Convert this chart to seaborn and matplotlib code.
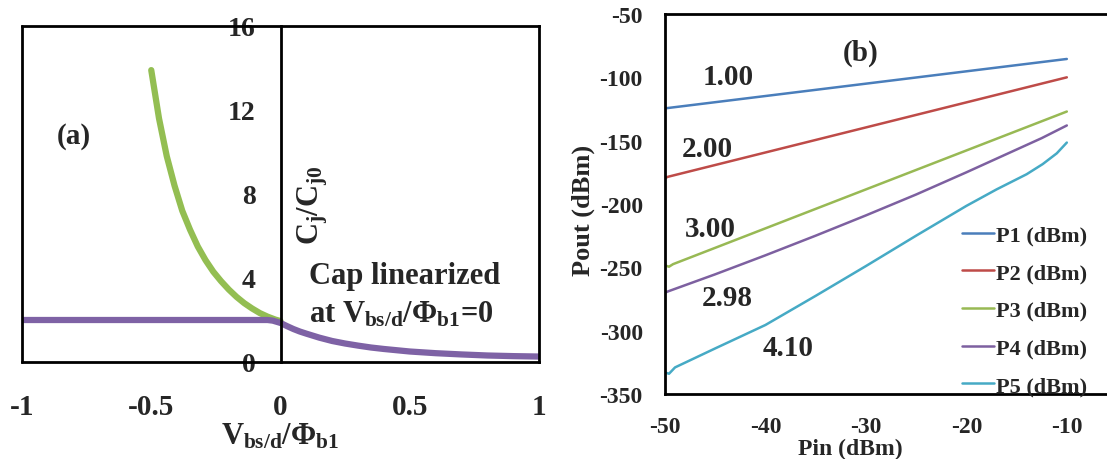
import numpy as np
import pandas as pd
import seaborn as sns
import matplotlib.pyplot as plt

# ---- panel (a): normalised junction capacitance ----
v_green = [-0.50, -0.47, -0.44, -0.41, -0.38, -0.35, -0.32, -0.29, -0.26, -0.23,
           -0.20, -0.17, -0.14, -0.11, -0.08, -0.05, -0.02, 0.0]
c_green = [13.9, 11.6, 9.8, 8.4, 7.2, 6.3, 5.5, 4.85, 4.3, 3.85,
           3.45, 3.1, 2.8, 2.55, 2.33, 2.16, 2.02, 1.95]
v_purple = [-1.0, -0.05, -0.03, 0.0, 0.025, 0.05, 0.075, 0.1, 0.15, 0.2, 0.25,
            0.3, 0.35, 0.4, 0.45, 0.5, 0.6, 0.7, 0.8, 0.9, 1.0]
c_purple = [2.0, 2.0, 1.97, 1.86, 1.71, 1.57, 1.45, 1.35, 1.16, 1.0, 0.88,
            0.78, 0.69, 0.62, 0.56, 0.5, 0.42, 0.36, 0.31, 0.28, 0.26]

# ---- panel (b): output power of harmonics ----
pin_p1 = [-50, -10]
p1 = [-124.5, -85.5]
pin_p2 = [-50, -49.7, -10]
p2 = [-179.5, -178.5, -100]
pin_p3 = [-50, -49.6, -49.2, -10]
p3 = [-248.5, -249.5, -247.5, -127]
pin_p4 = [-50, -49.7, -45, -40, -35, -30, -25, -20, -15, -12.5, -10]
p4 = [-270, -269, -255.5, -240.5, -225, -209, -192.5, -175, -157, -148, -138]
pin_p5 = [-50, -49.6, -49.0, -45, -40, -35, -30, -25, -20, -17,
          -14, -12.4, -11, -10]
p5 = [-333, -334, -329, -314, -295.5, -272.5, -249, -225, -201.5,
      -188.5, -176.5, -168.5, -160, -151.5]

slopes = ["1.00", "2.00", "3.00", "2.98", "4.10"]
slope_x = [-43.75, -45.8, -45.5, -43.8, -37.7]
slope_y = [-99, -156.5, -219, -273.5, -313]

sns.set_style("white")
plt.rcParams["font.family"] = ["Liberation Serif", "DejaVu Serif"]
plt.rcParams["font.weight"] = "bold"
plt.rcParams["axes.unicode_minus"] = False
plt.rcParams["mathtext.fontset"] = "custom"
plt.rcParams["mathtext.rm"] = "Liberation Serif:bold"
plt.rcParams["mathtext.it"] = "Liberation Serif:bold"
plt.rcParams["mathtext.bf"] = "Liberation Serif:bold"

W, H = 1107, 460
fig = plt.figure(figsize=(W / 100, H / 100), dpi=100)
ax1 = fig.add_axes([22 / W, 1 - 363 / H, (539 - 22) / W, (363 - 27) / H])
ax2 = fig.add_axes([665 / W, 1 - 395 / H, (W - 665) / W, (395 - 15) / H])

# ---------- panel (a) ----------
sns.lineplot(x=v_green, y=c_green, ax=ax1, color="#93BE52", lw=4.5, sort=False)
sns.lineplot(x=v_purple, y=c_purple, ax=ax1, color="#7E62A5", lw=4.5, sort=False)
ax1.set_xlim(-1, 1)
ax1.set_ylim(0, 16)
ax1.set_xticks([-1, -0.5, 0, 0.5, 1])
ax1.set_xticklabels(["-1", "-0.5", "0", "0.5", "1"])
ax1.set_yticks([0, 4, 8, 12, 16])
ax1.spines["left"].set_position(("data", 0))
for s in ax1.spines.values():
    s.set_linewidth(2)
    s.set_color("black")
ax1.axvline(-1, color="black", lw=2, clip_on=False)
ax1.tick_params(axis="x", direction="out", length=5, width=2, pad=17, labelsize=21)
ax1.tick_params(axis="y", direction="out", length=5, width=2, pad=13, labelsize=20)
ax1.text(-0.8, 10.8, "(a)", fontsize=21, ha="center", va="center")
ax1.text(0.112, 4.1, "Cap linearized", fontsize=22, ha="left", va="center")
ax1.text(0.112, 2.3, r"at $V_{bs/d}/Φ_{b1}$=0", fontsize=22, ha="left", va="center")
fig.text(313 / W, 1 - 205 / H, r"$C_j/C_{j0}$", fontsize=22, rotation=90,
         ha="center", va="center")
fig.text(280 / W, 1 - 437 / H, r"$V_{bs/d}/Φ_{b1}$", fontsize=22,
         ha="center", va="center")

# ---------- panel (b) ----------
series = [(pin_p1, p1, "P1 (dBm)", "#4A7EBB"),
          (pin_p2, p2, "P2 (dBm)", "#BE4B48"),
          (pin_p3, p3, "P3 (dBm)", "#98B954"),
          (pin_p4, p4, "P4 (dBm)", "#7D60A0"),
          (pin_p5, p5, "P5 (dBm)", "#46AAC5")]
for xs, ys, lab, col in series:
    sns.lineplot(x=xs, y=ys, ax=ax2, color=col, lw=1.8, label=lab, sort=False)
ax2.set_xlim(-50, -6)
ax2.set_ylim(-350, -50)
ax2.set_xticks([-50, -40, -30, -20, -10])
ax2.set_yticks(np.arange(-350, -49, 50))
ax2.spines["right"].set_visible(False)
for s in ["left", "bottom", "top"]:
    ax2.spines[s].set_linewidth(2)
    ax2.spines[s].set_color("black")
ax2.tick_params(axis="both", direction="out", length=5, width=2, labelsize=17)
ax2.tick_params(axis="x", pad=11)
ax2.tick_params(axis="y", pad=11)
ax2.set_xlabel("")
ax2.set_ylabel("")
for txt, tx, ty in zip(slopes, slope_x, slope_y):
    ax2.text(tx, ty, txt, fontsize=21, ha="center", va="center")
ax2.text(-30.5, -80, "(b)", fontsize=21, ha="center", va="center")
ax2.legend(loc="upper left", bbox_to_anchor=(962 / W, 1 - 226 / H),
           bbox_transform=fig.transFigure, frameon=False, fontsize=16,
           handlelength=1.45, handletextpad=0.1, labelspacing=0.77,
           borderpad=0, borderaxespad=0)
fig.text(583 / W, 1 - 210 / H, "Pout (dBm)", fontsize=19, rotation=90,
         ha="center", va="center")
fig.text(850 / W, 1 - 455 / H, "Pin (dBm)", fontsize=17, ha="center", va="baseline")

fig.savefig("out.png", dpi=100)
